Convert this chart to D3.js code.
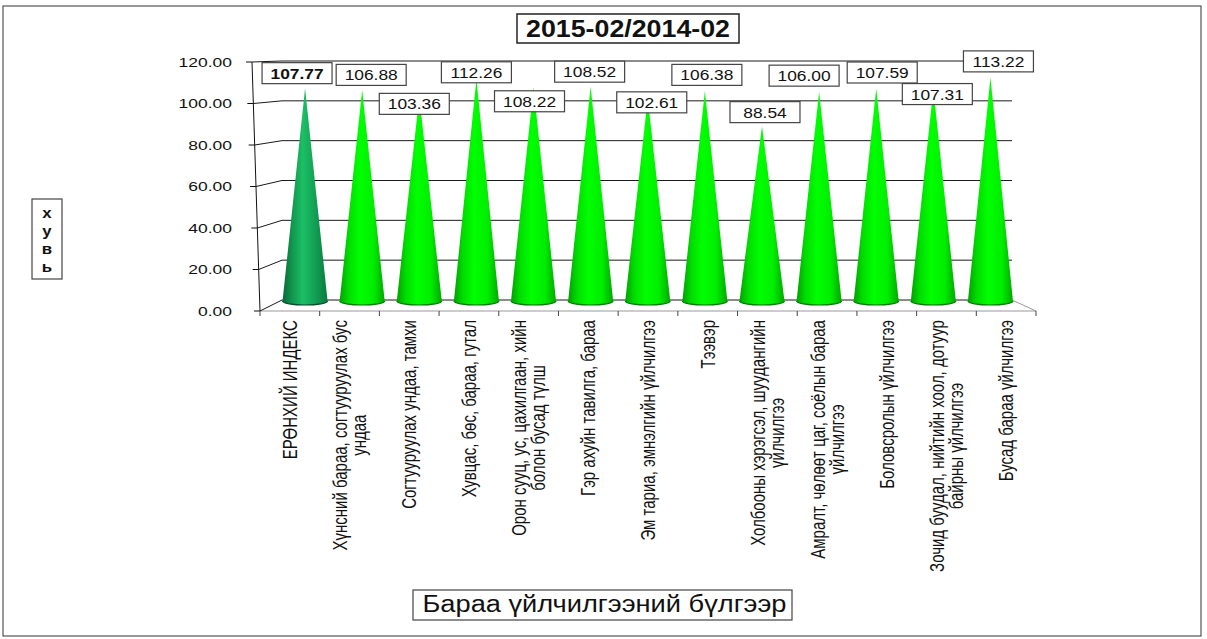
<!DOCTYPE html>
<html>
<head>
<meta charset="utf-8">
<script src="https://cdn.jsdelivr.net/npm/d3@7/dist/d3.min.js"></script>
<style>
	body { margin: 0; background: #fff; }
	text { font-family: "Liberation Sans", Arial, sans-serif; fill: #111; }
</style>
</head>
<body>
<div id="chart"></div>
<script>
// өгөгдөл
const categories = [
	["ЕРӨНХИЙ ИНДЕКС"],
	["Хүнсний бараа, согтууруулах бус", "ундаа"],
	["Согтууруулах ундаа, тамхи"],
	["Хувцас,  бөс,  бараа,  гутал"],
	["Орон сууц, ус, цахилгаан, хийн", "болон бусад түлш"],
	["Гэр ахуйн тавилга,  бараа"],
	["Эм тариа, эмнэлгийн үйлчилгээ"],
	["Тээвэр"],
	["Холбооны хэрэгсэл, шуудангийн", "үйлчилгээ"],
	["Амралт, чөлөөт  цаг, соёлын бараа", "үйлчилгээ"],
	["Боловсролын үйлчилгээ"],
	["Зочид буудал, нийтийн хоол, дотуур", "байрны үйлчилгээ"],
	["Бусад бараа үйлчилгээ"]
];
const values = [107.77, 106.88, 103.36, 112.26, 108.22, 108.52, 102.61, 106.38, 88.54, 106.00, 107.59, 107.31, 113.22];
const yTicks = [0, 20, 40, 60, 80, 100, 120];
const title = "2015-02/2014-02";
const xTitle = "Бараа үйлчилгээний бүлгээр";
const yTitle = ["х", "у", "в", "ь"];

// шошгыг давхцуулахгүйн тулд бага зэрэг зөөнө (dx, dy)
const labelShift = [[-8, -15], [9, -15], [-5, 7], [0, -7], [-4, 14], [-1, -15], [4, 4], [2, -16], [3, -14], [-15, -16], [6, -16], [4, 5], [8, -16]];

const W = 1207, H = 639;
const idx = d3.range(categories.length);

const svg = d3.select("#chart").append("svg")
	.attr("width", W)
	.attr("height", H);

// 3D хэлбэрийн хана, шал
const yFront = d3.scaleLinear().domain([0, 120]).range([311, 62]);
const xFront = d3.scaleLinear().domain([0, 120]).range([260, 252]);
const yBack = d3.scaleLinear().domain([0, 120]).range([300, 61]);
const backLeft = 282, backRight = 1012;
const yCone = d3.scaleLinear().domain([0, 120]).range([301, 64]);
const xCone = d3.scaleBand().domain(idx).range([276.5, 1019]);
const xCat = d3.scaleBand().domain(idx).range([260, 1036]);
const fmt = d3.format(".2f");

svg.append("rect")
	.attr("x", 3).attr("y", 6)
	.attr("width", 1198).attr("height", 630)
	.attr("fill", "#fff")
	.attr("stroke", "#333");

const defs = svg.append("defs");
function grad(id, stops) {
	const g = defs.append("linearGradient").attr("id", id)
		.attr("x1", "0").attr("x2", "1").attr("y1", "0").attr("y2", "0");
	stops.forEach(s => g.append("stop").attr("offset", s[0]).attr("stop-color", s[1]));
}
grad("coneMain", [[0, "#08683a"], [0.2, "#10944d"], [0.45, "#1cbf66"], [0.7, "#13a256"], [1, "#0a7a3e"]]);
grad("coneGreen", [[0, "#00a000"], [0.2, "#00dd00"], [0.45, "#00ff00"], [0.75, "#00ee00"], [1, "#00a800"]]);

// шал
svg.append("path")
	.attr("d", `M${xCat.range()[0]},${yFront(0)} L${xCat.range()[1]},${yFront(0)} L${backRight},${yBack(0)}`)
	.attr("fill", "none")
	.attr("stroke", "#999");

// тор шугам
svg.append("g").selectAll("path")
	.data(yTicks)
	.enter().append("path")
	.attr("d", t => `M${xFront(t)},${yFront(t)} L${backLeft},${yBack(t)} L${backRight},${yBack(t)}`)
	.attr("fill", "none")
	.attr("stroke", "#1a1a1a")
	.attr("stroke-width", 1);

// босоо тэнхлэг
svg.append("line")
	.attr("x1", xFront(0)).attr("y1", yFront(0))
	.attr("x2", xFront(120)).attr("y2", yFront(120))
	.attr("stroke", "#111");

svg.append("g").selectAll("line")
	.data(yTicks)
	.enter().append("line")
	.attr("x1", t => xFront(t) - 6).attr("x2", t => xFront(t))
	.attr("y1", t => yFront(t)).attr("y2", t => yFront(t))
	.attr("stroke", "#111");

svg.append("g").selectAll("text")
	.data(yTicks)
	.enter().append("text")
	.attr("transform", t => `translate(232,${yFront(t) + 4.5}) scale(1.4,1)`)
	.attr("text-anchor", "end")
	.style("font-size", "12.5px")
	.text(t => fmt(t));

// хэвтээ тэнхлэгийн зураас
svg.append("g").selectAll("line")
	.data(d3.range(categories.length + 1))
	.enter().append("line")
	.attr("x1", i => xCat.range()[0] + i * xCat.step())
	.attr("x2", i => xCat.range()[0] + i * xCat.step())
	.attr("y1", yFront(0)).attr("y2", yFront(0) + 5)
	.attr("stroke", "#444");

// конус
const rx = 22.5, ry = 4;
const cone = svg.append("g").selectAll("g")
	.data(idx)
	.enter().append("g");

cone.append("path")
	.attr("d", i => {
		const cx = xCone(i) + xCone.bandwidth() / 2, yb = yCone(0), yt = yCone(values[i]);
		return `M${cx - rx},${yb} L${cx},${yt} L${cx + rx},${yb} A${rx},${ry} 0 0 1 ${cx - rx},${yb} Z`;
	})
	.attr("fill", i => i === 0 ? "url(#coneMain)" : "url(#coneGreen)");

cone.append("path")
	.attr("d", i => {
		const cx = xCone(i) + xCone.bandwidth() / 2, yb = yCone(0);
		return `M${cx + rx},${yb} A${rx},${ry} 0 0 1 ${cx - rx},${yb}`;
	})
	.attr("fill", "none")
	.attr("stroke", i => i === 0 ? "#064d2a" : "#007a00")
	.attr("stroke-width", 1.2);

// утгын шошго
const lab = svg.append("g").selectAll("g")
	.data(idx)
	.enter().append("g")
	.attr("transform", i => {
		const cx = xCone(i) + xCone.bandwidth() / 2 + labelShift[i][0];
		const cy = yCone(values[i]) + labelShift[i][1];
		return `translate(${cx},${cy})`;
	});

lab.append("rect")
	.attr("x", -35).attr("y", -10.5)
	.attr("width", 70).attr("height", 21)
	.attr("fill", "#fff")
	.attr("stroke", "#444")
	.attr("stroke-width", 1.2);

lab.append("text")
	.attr("transform", "translate(0,5.5) scale(1.12,1)")
	.attr("text-anchor", "middle")
	.style("font-size", "15.5px")
	.style("font-weight", i => i === 0 ? "bold" : "normal")
	.text(i => fmt(values[i]));

// ангиллын нэрс
const catG = svg.append("g").selectAll("g")
	.data(idx)
	.enter().append("g");

catG.each(function (i) {
	const g = d3.select(this);
	const lines = categories[i];
	const cx = xCat(i) + xCat.bandwidth() / 2;
	const gap = 19;
	const texts = lines.map(s => g.append("text")
		.attr("text-anchor", "middle")
		.style("font-size", "15px")
		.text(s));
	const len = d3.max(texts, t => t.node().getComputedTextLength());
	const top = 320;
	texts.forEach((t, k) => {
		const x = cx + (k - (lines.length - 1) / 2) * gap + 7;
		t.attr("transform", `translate(${x},${top + len / 2}) scale(1.38,1) rotate(-90)`);
	});
});

// гарчиг
const tg = svg.append("g");
tg.append("rect")
	.attr("x", 517).attr("y", 14)
	.attr("width", 222).attr("height", 29)
	.attr("fill", "#fff")
	.attr("stroke", "#222")
	.attr("stroke-width", 1.5);
tg.append("text")
	.attr("x", 628).attr("y", 37)
	.attr("text-anchor", "middle")
	.attr("textLength", 204)
	.attr("lengthAdjust", "spacingAndGlyphs")
	.style("font-size", "24.5px")
	.style("font-weight", "bold")
	.text(title);

// хэвтээ тэнхлэгийн нэр
const xg = svg.append("g");
xg.append("rect")
	.attr("x", 413).attr("y", 590)
	.attr("width", 379).attr("height", 30)
	.attr("fill", "#fff")
	.attr("stroke", "#444")
	.attr("stroke-width", 1.2);
xg.append("text")
	.attr("x", 604.5).attr("y", 612)
	.attr("text-anchor", "middle")
	.attr("textLength", 364)
	.attr("lengthAdjust", "spacingAndGlyphs")
	.style("font-size", "23px")
	.text(xTitle);

// босоо тэнхлэгийн нэр
const yg = svg.append("g");
yg.append("rect")
	.attr("x", 32).attr("y", 199)
	.attr("width", 30).attr("height", 80)
	.attr("fill", "#fff")
	.attr("stroke", "#444")
	.attr("stroke-width", 1.2);
yg.append("g").selectAll("text")
	.data(yTitle)
	.enter().append("text")
	.attr("transform", (d, k) => `translate(47,${218 + k * 18}) scale(1.2,1)`)
	.attr("text-anchor", "middle")
	.style("font-size", "14px")
	.style("font-weight", "bold")
	.text(d => d);
</script>
</body>
</html>
